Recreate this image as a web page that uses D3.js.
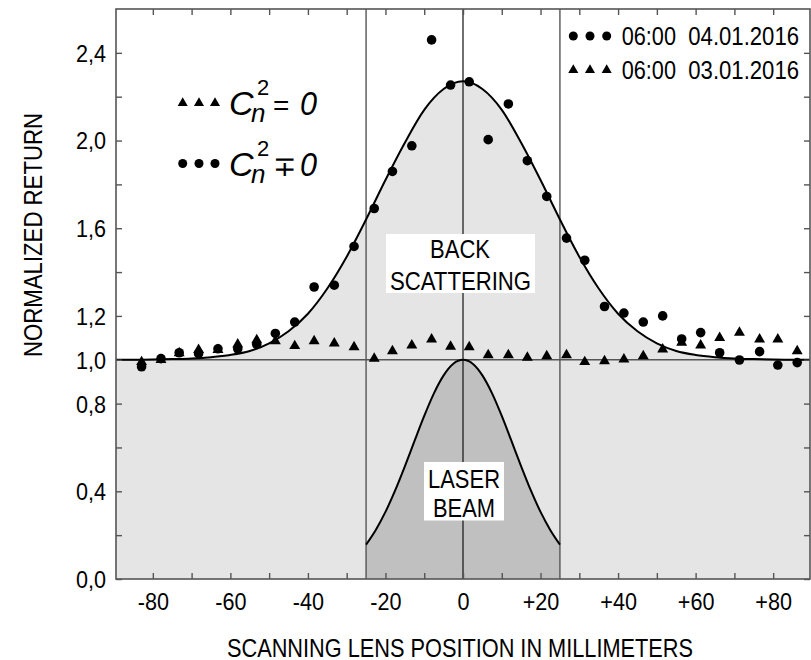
<!DOCTYPE html>
<html>
<head>
<meta charset="utf-8">
<script src="https://cdn.jsdelivr.net/npm/d3@7"></script>
<style>
  body { margin: 0; background: #fff; }
  svg text { font-family: "Liberation Sans", Arial, sans-serif; fill: #000; }
</style>
</head>
<body>
<div id="chart"></div>
<script>
// lens positions (mm) of the measured points
const lensPos = [-82.9, -77.9, -73.2, -68.2, -63.2, -58.1, -53.2, -48.4, -43.4, -38.4, -33.2, -28.1,
  -22.9, -18.2, -13.2, -8.1, -3.2, 1.6, 6.5, 11.7, 16.6, 21.6, 26.7, 31.4, 36.5, 41.5, 46.5, 51.5,
  56.4, 61.3, 66.2, 71.3, 76.5, 81.2, 86.2];
// 06:00 04.01.2016 (circles)
const returnJan4 = [0.968, 1.005, 1.032, 1.028, 1.05, 1.05, 1.07, 1.12, 1.172, 1.332, 1.34, 1.517,
  1.69, 1.859, 1.976, 2.459, 2.253, 2.268, 2.004, 2.167, 1.908, 1.745, 1.555, 1.454, 1.243, 1.213, 1.172, 1.2,
  1.095, 1.124, 1.032, 0.999, 1.037, 0.976, 0.987];
// 06:00 03.01.2016 (triangles)
const returnJan3 = [0.99, 1.0, 1.03, 1.045, 1.045, 1.07, 1.09, 1.085, 1.063, 1.085, 1.075, 1.058,
  1.005, 1.04, 1.066, 1.093, 1.06, 1.058, 1.021, 1.021, 1.01, 1.017, 1.021, 0.99, 0.994, 1.002, 1.017, 1.048,
  1.078, 1.066, 1.1, 1.124, 1.093, 1.093, 1.04];

// back scattering curve
const fitPos = [-90, -85, -80, -75, -70, -65, -60, -55, -50, -45, -40, -35, -30, -25, -20, -15, -10, -5, 0,
  5, 10, 15, 20, 25, 30, 35, 40, 45, 50, 55, 60, 65, 70, 75, 80, 85, 90];
const fitReturn = [1.0, 1.0, 1.001, 1.003, 1.006, 1.012, 1.022, 1.04, 1.075, 1.13, 1.21, 1.325, 1.47, 1.64,
  1.82, 1.99, 2.14, 2.235, 2.27, 2.235, 2.14, 1.99, 1.82, 1.64, 1.47, 1.325, 1.21, 1.13, 1.075, 1.04,
  1.022, 1.012, 1.006, 1.003, 1.001, 1.0, 1.0];

// laser beam profile
const beamPos = [-25, -22.5, -20, -17.5, -15, -12.5, -10, -7.5, -5, -2.5, 0, 2.5, 5, 7.5, 10, 12.5, 15, 17.5, 20, 22.5, 25];
const beamReturn = [0.157, 0.224, 0.306, 0.404, 0.514, 0.63, 0.744, 0.847, 0.929, 0.982, 1.0, 0.982, 0.929,
  0.847, 0.744, 0.63, 0.514, 0.404, 0.306, 0.224, 0.157];

const xTicks = [-80, -70, -60, -50, -40, -30, -20, -10, 0, 10, 20, 30, 40, 50, 60, 70, 80];
const xLabelled = [-80, -60, -40, -20, 0, 20, 40, 60, 80];
const yTicks = [0, 0.2, 0.4, 0.6, 0.8, 1.0, 1.2, 1.4, 1.6, 1.8, 2.0, 2.2, 2.4];
const yLabelled = [0, 0.4, 0.8, 1.0, 1.2, 1.6, 2.0, 2.4];
const markerLines = [-25, 0, 25];
const seriesTimes = ['06:00', '06:00'];
const seriesDates = ['04.01.2016', '03.01.2016'];

const width = 811;
const height = 660;
const pLeft = 116, pRight = 810, pTop = 9, pBottom = 579;

const svg = d3.select('#chart')
  .append('svg')
  .attr('width', width)
  .attr('height', height)
  .attr('viewBox', [0, 0, width, height]);

const x = d3.scaleLinear().domain([-89.5, 89.5]).range([pLeft, pRight]);
const y = d3.scaleLinear().domain([0, 2.6]).range([pBottom, pTop]);

svg.append('clipPath').attr('id', 'plotclip')
  .append('rect')
  .attr('x', pLeft).attr('y', pTop)
  .attr('width', pRight - pLeft).attr('height', pBottom - pTop);

const plot = svg.append('g').attr('clip-path', 'url(#plotclip)');

const fitData = fitPos.map((p, i) => [p, fitReturn[i]]);
const beamData = beamPos.map((p, i) => [p, beamReturn[i]]);

// grey area under the back scattering curve
plot.append('path')
  .datum(fitData)
  .attr('fill', '#e5e5e5')
  .attr('d', d3.area().x(d => x(d[0])).y0(y(0)).y1(d => y(d[1])).curve(d3.curveMonotoneX));

// laser beam area
plot.append('path')
  .datum(beamData)
  .attr('fill', '#c0c0c0')
  .attr('d', d3.area().x(d => x(d[0])).y0(y(0)).y1(d => y(d[1])).curve(d3.curveMonotoneX));

// vertical reference lines
plot.selectAll('.vline')
  .data(markerLines)
  .enter()
  .append('line')
  .attr('x1', d => x(d)).attr('x2', d => x(d))
  .attr('y1', pTop).attr('y2', pBottom)
  .attr('stroke', d => d === 0 ? '#111' : '#555')
  .attr('stroke-width', d => d === 0 ? 1.2 : 1.4);

// level 1,0
plot.append('line')
  .attr('x1', pLeft).attr('x2', pRight)
  .attr('y1', y(1)).attr('y2', y(1))
  .attr('stroke', '#555')
  .attr('stroke-width', 1.6);

const line = d3.line().x(d => x(d[0])).y(d => y(d[1])).curve(d3.curveMonotoneX);

plot.append('path')
  .datum(fitData)
  .attr('fill', 'none')
  .attr('stroke', '#000')
  .attr('stroke-width', 2)
  .attr('d', line);

plot.append('path')
  .datum(beamData)
  .attr('fill', 'none')
  .attr('stroke', '#000')
  .attr('stroke-width', 2)
  .attr('d', line);

// measured points
plot.selectAll('.dot')
  .data(lensPos.map((p, i) => [p, returnJan4[i]]))
  .enter()
  .append('circle')
  .attr('cx', d => x(d[0]))
  .attr('cy', d => y(d[1]))
  .attr('r', 4.8)
  .attr('fill', '#000');

const tri = d3.symbol().type(d3.symbolTriangle).size(52);
plot.selectAll('.tri')
  .data(lensPos.map((p, i) => [p, returnJan3[i]]))
  .enter()
  .append('path')
  .attr('d', tri)
  .attr('transform', d => `translate(${x(d[0])},${y(d[1])})`)
  .attr('fill', '#000');

// label boxes
function labelBox(x0, y0, w, h, lines) {
  svg.append('rect')
    .attr('x', x0).attr('y', y0)
    .attr('width', w).attr('height', h)
    .attr('fill', '#fff');
  lines.forEach(l => {
    svg.append('text')
      .attr('x', l.x).attr('y', l.y)
      .attr('text-anchor', 'middle')
      .attr('font-size', 25)
      .attr('textLength', l.len)
      .attr('lengthAdjust', 'spacingAndGlyphs')
      .text(l.t);
  });
}
labelBox(386, 234, 149, 59, [
  { t: 'BACK', x: 460, y: 258, len: 60 },
  { t: 'SCATTERING', x: 460.5, y: 290, len: 141 }
]);
labelBox(424, 462, 80, 58.5, [
  { t: 'LASER', x: 464, y: 488, len: 72 },
  { t: 'BEAM', x: 464, y: 516.5, len: 62 }
]);

// axes (ticks pointing inward on all four sides)
const tickColor = '#555';
function styleAxis(g) {
  g.select('.domain').remove();
  g.selectAll('.tick line').attr('stroke', tickColor).attr('stroke-width', 1.4);
}

svg.append('g')
  .attr('transform', `translate(0,${pBottom})`)
  .call(d3.axisBottom(x).tickValues(xTicks).tickSize(-6)
    .tickFormat(d => xLabelled.includes(d) ? (d > 0 ? '+' + d : String(d)) : ''))
  .call(styleAxis)
  .call(g => g.selectAll('text')
    .attr('y', 31).attr('dy', null)
    .attr('font-size', 24)
    .attr('transform', 'scale(0.9,1)')
    .attr('fill', '#000'));

svg.append('g')
  .attr('transform', `translate(0,${pTop})`)
  .call(d3.axisTop(x).tickValues(xTicks).tickSize(-6).tickFormat(''))
  .call(styleAxis);

svg.append('g')
  .attr('transform', `translate(${pLeft},0)`)
  .call(d3.axisLeft(y).tickValues(yTicks).tickSize(-6)
    .tickFormat(d => yLabelled.some(v => Math.abs(v - d) < 1e-9) ? d3.format('.1f')(d).replace('.', ',') : ''))
  .call(styleAxis)
  .call(g => g.selectAll('text')
    .attr('x', -11).attr('dy', '0.35em')
    .attr('font-size', 24)
    .attr('transform', 'scale(0.9,1)')
    .attr('fill', '#000'));

svg.append('g')
  .attr('transform', `translate(${pRight},0)`)
  .call(d3.axisRight(y).tickValues(yTicks).tickSize(-6).tickFormat(''))
  .call(styleAxis);

svg.append('rect')
  .attr('x', pLeft).attr('y', pTop)
  .attr('width', pRight - pLeft).attr('height', pBottom - pTop)
  .attr('fill', 'none')
  .attr('stroke', '#555')
  .attr('stroke-width', 1.6);

// axis titles
svg.append('text')
  .attr('x', 460).attr('y', 657)
  .attr('text-anchor', 'middle')
  .attr('font-size', 25)
  .attr('textLength', 466)
  .attr('lengthAdjust', 'spacingAndGlyphs')
  .text('SCANNING LENS POSITION IN MILLIMETERS');

svg.append('text')
  .attr('transform', 'translate(41.5,235) rotate(-90)')
  .attr('text-anchor', 'middle')
  .attr('font-size', 26)
  .attr('textLength', 244)
  .attr('lengthAdjust', 'spacingAndGlyphs')
  .text('NORMALIZED RETURN');

// right legend
const legendMarkerX = [573.3, 590, 606.7];
const legendRows = [36, 70];
legendRows.forEach((ly, i) => {
  legendMarkerX.forEach(mx => {
    if (i === 0) {
      svg.append('circle').attr('cx', mx).attr('cy', ly).attr('r', 4.5).attr('fill', '#000');
    } else {
      svg.append('path').attr('d', d3.symbol().type(d3.symbolTriangle).size(44))
        .attr('transform', `translate(${mx},${ly})`).attr('fill', '#000');
    }
  });
  svg.append('text')
    .attr('x', 621.7).attr('y', ly + 9)
    .attr('font-size', 25)
    .attr('textLength', 54.3)
    .attr('lengthAdjust', 'spacingAndGlyphs')
    .text(seriesTimes[i]);
  svg.append('text')
    .attr('x', 688.3).attr('y', ly + 9)
    .attr('font-size', 25)
    .attr('textLength', 110.7)
    .attr('lengthAdjust', 'spacingAndGlyphs')
    .text(seriesDates[i]);
});

// left legend: C_n^2 = 0 / C_n^2 ∓ 0
const cnRows = [
  { marker: 'tri', y: 103, base: 115, sign: '=' },
  { marker: 'dot', y: 163.5, base: 175.5, sign: '∓' }
];
const cnMarkerX = [182.7, 199, 215];
cnRows.forEach(r => {
  cnMarkerX.forEach(mx => {
    if (r.marker === 'dot') {
      svg.append('circle').attr('cx', mx).attr('cy', r.y).attr('r', 4.5).attr('fill', '#000');
    } else {
      svg.append('path').attr('d', d3.symbol().type(d3.symbolTriangle).size(44))
        .attr('transform', `translate(${mx},${r.y})`).attr('fill', '#000');
    }
  });
  svg.append('text').attr('x', 229).attr('y', r.base)
    .attr('font-size', 34).attr('font-style', 'italic').text('C');
  svg.append('text').attr('x', 257).attr('y', r.base - 20)
    .attr('font-size', 22).text('2');
  svg.append('text').attr('x', 251).attr('y', r.base + 7)
    .attr('font-size', 26).attr('font-style', 'italic').text('n');
  svg.append('text').attr('x', 273).attr('y', r.base)
    .attr('font-size', 28).attr('font-weight', 300).text(r.sign);
  svg.append('text').attr('x', 300).attr('y', r.base)
    .attr('font-size', 34).attr('font-style', 'italic')
    .attr('textLength', 17).attr('lengthAdjust', 'spacingAndGlyphs').text('0');
});
</script>
</body>
</html>
